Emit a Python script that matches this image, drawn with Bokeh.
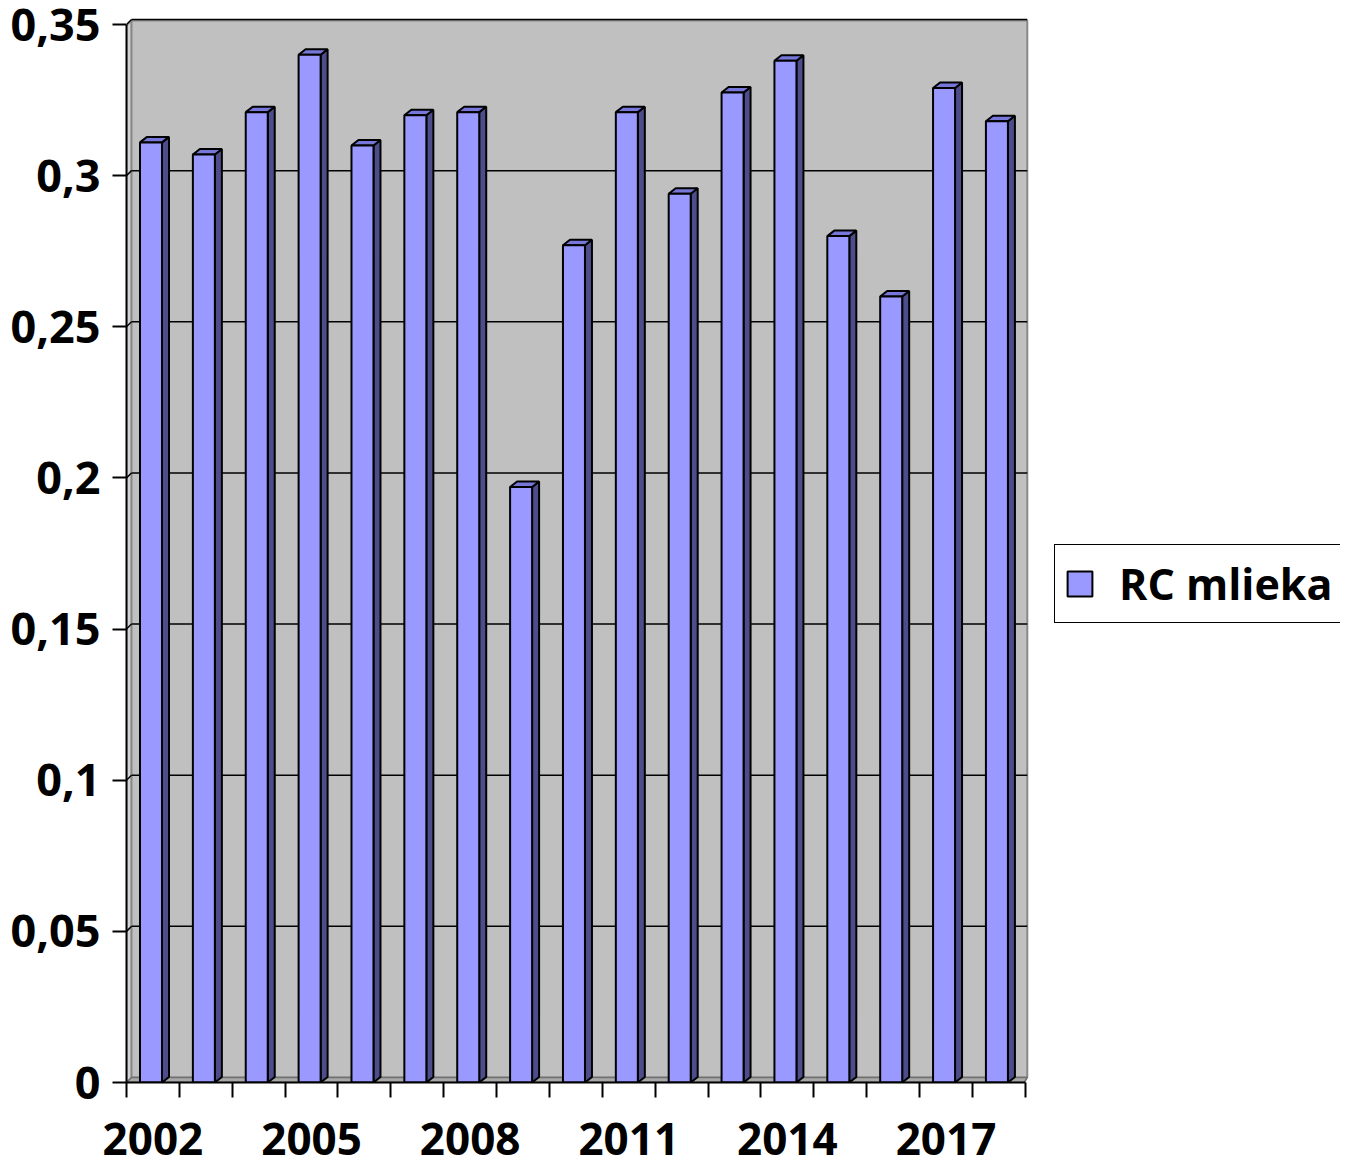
from bokeh.plotting import figure
from bokeh.models import Range1d, FixedTicker, Legend, LegendItem, ColumnDataSource
from bokeh.embed import file_html
from bokeh.resources import INLINE

# ---- data ----
years = [str(y) for y in range(2002, 2019)]
values = [0.311, 0.307, 0.321, 0.340, 0.310, 0.320, 0.321, 0.197, 0.277,
          0.321, 0.294, 0.3275, 0.338, 0.280, 0.260, 0.329, 0.318]
series_name = "RC mlieka"
ytick_values = [0, 0.05, 0.1, 0.15, 0.2, 0.25, 0.3, 0.35]
ytick_labels = ["0", "0,05", "0,1", "0,15", "0,2", "0,25", "0,3", "0,35"]
xlabel_every = 3

# ---- geometry (pixels -> data units) ----
CAT_PX = 52.87
UNIT_PX = 3023.8
FRAME_W = 1214
FRAME_H = 1066
XPX = 1.0 / CAT_PX
YPX = 1.0 / UNIT_PX
n = len(values)
WALL_DX, WALL_DY = 5 * XPX, 5 * YPX
BAR_DX, BAR_DY = 7 * XPX, 5.5 * YPX
BAR_OFF, BAR_W = 13.5 * XPX, 22 * XPX
YMAX = 0.35
y_end = YMAX + 8 * YPX
wall_right = n + 2 * XPX
wall_top = YMAX + 4 * YPX

FONT = "Open Sans"
FRONT = "#9999FF"
TOP = "#7777D9"
SIDE = "#4D4D8C"

p = figure(frame_width=FRAME_W, frame_height=FRAME_H,
           x_range=Range1d(0, FRAME_W / CAT_PX), y_range=Range1d(0, y_end),
           output_backend="svg", toolbar_location=None,
           min_border_left=126, min_border_top=16, min_border_right=4,
           min_border_bottom=87)
p.outline_line_color = None
p.xgrid.visible = False
p.ygrid.visible = False
p.background_fill_color = "white"

# side wall (left strip)
p.patch([0, WALL_DX, WALL_DX, 0], [0, WALL_DY, wall_top, wall_top - WALL_DY],
        fill_color="#D4D4D4", line_color="#808080", line_width=1.5)
# back wall
p.quad(left=[WALL_DX], right=[wall_right], bottom=[WALL_DY], top=[wall_top],
       fill_color="#C0C0C0", line_color="#888888", line_width=2)
# floor
p.patch([0, WALL_DX, wall_right, wall_right - WALL_DX + 2 * XPX, 0],
        [0, WALL_DY, WALL_DY, 0, 0],
        fill_color="#A8A8A8", line_color="#707070", line_width=1.5)

# gridlines on wall
gv = [v for v in ytick_values if v > 0]
p.segment(x0=[WALL_DX] * len(gv), y0=[v + WALL_DY for v in gv],
          x1=[wall_right] * len(gv), y1=[v + WALL_DY for v in gv],
          line_color="black", line_width=1.5)
p.segment(x0=[0] * len(gv), y0=gv, x1=[WALL_DX] * len(gv), y1=[v + WALL_DY for v in gv],
          line_color="black", line_width=1.5)

# bars
lefts = [i + BAR_OFF for i in range(n)]
rights = [l + BAR_W for l in lefts]
side_xs, side_ys, top_xs, top_ys = [], [], [], []
for l, r, v in zip(lefts, rights, values):
    side_xs.append([r, r + BAR_DX, r + BAR_DX, r])
    side_ys.append([0, BAR_DY, v + BAR_DY, v])
    top_xs.append([l, r, r + BAR_DX, l + BAR_DX])
    top_ys.append([v, v, v + BAR_DY, v + BAR_DY])
p.patches(side_xs, side_ys, fill_color=SIDE, line_color="black", line_width=2)
p.patches(top_xs, top_ys, fill_color=TOP, line_color="black", line_width=2)
src = ColumnDataSource(dict(left=lefts, right=rights, bottom=[0] * n, top=values))
front = p.quad(left="left", right="right", bottom="bottom", top="top", source=src,
               fill_color=FRONT, line_color="black", line_width=2)

# axes
xa = p.xaxis[0]
xa.bounds = (0, n)
xa.ticker = FixedTicker(ticks=[i + 0.5 for i in range(0, n, xlabel_every)],
                        minor_ticks=list(range(n + 1)))
xa.major_label_overrides = {i + 0.5: years[i] for i in range(0, n, xlabel_every)}
xa.major_tick_out = 0
xa.major_tick_in = 0
xa.minor_tick_out = 15
xa.minor_tick_in = 0
xa.minor_tick_line_color = "black"
xa.minor_tick_line_width = 2
xa.axis_line_color = "black"
xa.axis_line_width = 2
xa.major_label_text_font = FONT
xa.major_label_text_font_style = "bold"
xa.major_label_text_font_size = "44px"
xa.major_label_text_color = "black"
xa.major_label_standoff = 25

ya = p.yaxis[0]
ya.bounds = (0, YMAX)
ya.ticker = FixedTicker(ticks=ytick_values, minor_ticks=[])
ya.major_label_overrides = dict(zip(ytick_values, ytick_labels))
ya.major_tick_out = 14
ya.major_tick_in = 0
ya.major_tick_line_width = 2
ya.major_tick_line_color = "black"
ya.axis_line_color = "black"
ya.axis_line_width = 2
ya.major_label_text_font = FONT
ya.major_label_text_font_style = "bold"
ya.major_label_text_font_size = "45px"
ya.major_label_text_color = "black"
ya.major_label_standoff = 12

legend = Legend(items=[LegendItem(label=series_name, renderers=[front])],
                location=(928, 459),
                glyph_width=31, glyph_height=31, padding=9, label_standoff=24,
                label_text_font=FONT, label_text_font_style="bold",
                label_text_font_size="43px", label_text_color="black",
                border_line_color="black", border_line_width=1.5,
                border_line_alpha=1.0,
                background_fill_color="white", background_fill_alpha=1.0,
                margin=0)
p.add_layout(legend, "center")

open("out.html", "w").write(file_html(p, INLINE))
